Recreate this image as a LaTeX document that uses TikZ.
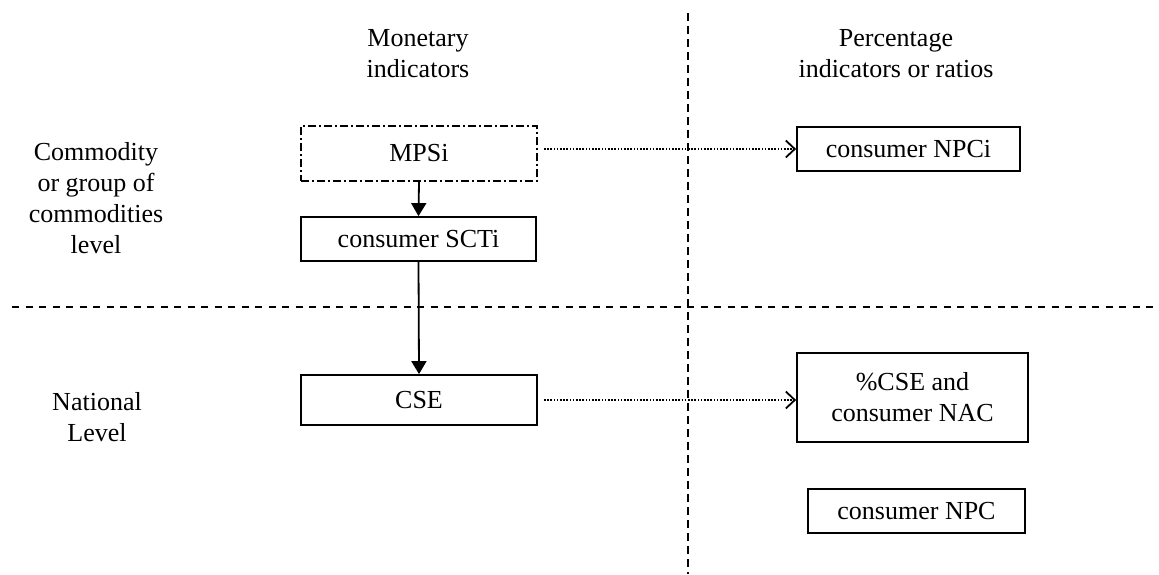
\documentclass[tikz,border=0pt]{standalone}
\usepackage{fontspec}
\setmainfont{Liberation Serif}
\usetikzlibrary{arrows.meta}
\begin{document}
\begin{tikzpicture}[x=1pt,y=-1pt,
  every node/.style={font=\fontsize{26}{31}\selectfont},
  boxn/.style={draw, line width=1.8pt, inner sep=0pt},
  mainarrow/.style={line width=1.8pt, -{Triangle[length=13pt,width=15pt]}},
  dotarrow/.style={line width=1.6pt, dash pattern=on 1.6pt off 1.6pt, shorten <=6pt,
    -{Straight Barb[length=9pt,width=17pt,line width=1.8pt]}},
  divider/.style={line width=1.8pt, dash pattern=on 7pt off 6.5pt},
  label/.style={align=center, inner sep=0pt}]
\useasboundingbox (0,0) rectangle (1159,574);
% dividers
\coordinate (vt) at (688,13);
\coordinate (vb) at (688,574);
\coordinate (hl) at (12,307);
\coordinate (hr) at (1159,307);
\draw[divider, dash pattern=on 8pt off 5pt] (vt) -- (vb);
\draw[divider] (hl) -- (hr);
% labels
\node[label] (mon) at (418,54) {Monetary\\indicators};
\node[label] (pct) at (896,54) {Percentage\\indicators or ratios};
\node[label] (com) at (96,198) {Commodity\\or group of\\commodities\\level};
\node[label] (nat) at (97,417) {National\\Level};
% boxes
\node[boxn, dash pattern=on 8pt off 3pt on 2pt off 3pt, minimum width=236pt, minimum height=55pt] (mps) at (419,153.5) {MPSi};
\node[boxn, minimum width=235pt, minimum height=44pt] (sct) at (418.5,239) {consumer SCTi};
\node[boxn, minimum width=236pt, minimum height=50pt] (cse) at (419,400) {CSE};
\node[boxn, minimum width=223pt, minimum height=44pt] (npci) at (908.5,149) {consumer NPCi};
\node[boxn, minimum width=231pt, minimum height=89pt, align=center] (pcse) at (912.5,397.5) {\%CSE and\\consumer NAC};
\node[boxn, minimum width=217pt, minimum height=44pt] (npc) at (916.5,511) {consumer NPC};
% arrows
\draw[mainarrow] (mps.south) -- (sct.north);
\draw[mainarrow] (sct.south) -- (cse.north);
\draw[dotarrow] (mps.east |- npci.west) -- (npci.west);
\draw[dotarrow] (cse.east) -- (cse.east -| pcse.west);
\end{tikzpicture}
\end{document}
